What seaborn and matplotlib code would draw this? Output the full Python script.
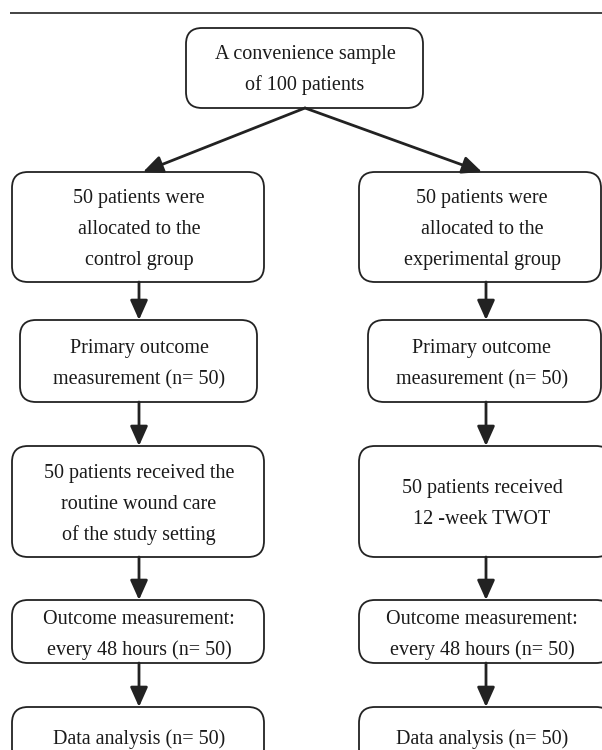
import matplotlib
matplotlib.use("Agg")
import matplotlib.pyplot as plt
from matplotlib.patches import FancyBboxPatch
import seaborn as sns

sns.set_theme(style="white")
plt.rcParams['font.family'] = ['Liberation Serif', 'DejaVu Serif']

# ---- content ----
top_label = ["A convenience sample", "of 100 patients"]
left_labels = [
    ["50 patients were", "allocated to the", "control group"],
    ["Primary outcome", "measurement (n= 50)"],
    ["50 patients received the", "routine wound care", "of the study setting"],
    ["Outcome measurement:", "every 48 hours (n= 50)"],
    ["Data analysis (n= 50)"],
]
right_labels = [
    ["50 patients were", "allocated to the", "experimental group"],
    ["Primary outcome", "measurement (n= 50)"],
    ["50 patients received", "12 -week TWOT"],
    ["Outcome measurement:", "every 48 hours (n= 50)"],
    ["Data analysis (n= 50)"],
]

# ---- layout (pixels) ----
W, H = 602, 750
top_box = (186, 28, 423, 108)
row_y = [(172, 282), (320, 402), (446, 557), (600, 663), (707, 765)]
left_x = [(12, 264), (20, 257), (12, 264), (12, 264), (12, 264)]
right_x = [(359, 601), (368, 601), (359, 612), (359, 612), (359, 612)]
left_arrow_x = 139
right_arrow_x = 486
line_gap = 31
ink = "#222222"

fig = plt.figure(figsize=(W / 100, H / 100), dpi=100)
ax = fig.add_axes([0, 0, 1, 1])
ax.set_xlim(0, W)
ax.set_ylim(H, 0)
ax.axis("off")

# top rule
ax.plot([10, W], [13, 13], color=ink, lw=1.2, solid_capstyle="butt")


def box(x0, y0, x1, y1, lines, tx=None, dy=3):
    p = FancyBboxPatch((x0, y0), x1 - x0, y1 - y0,
                       boxstyle="round,pad=0,rounding_size=16",
                       fc="white", ec=ink, lw=1.3, clip_on=True)
    ax.add_patch(p)
    cx = (x0 + x1) / 2 if tx is None else tx
    cy = (y0 + y1) / 2 + dy
    n = len(lines)
    for i, t in enumerate(lines):
        y = cy + (i - (n - 1) / 2) * line_gap
        ax.text(cx, y, t, ha="center", va="center", fontsize=14.5,
                color="#1a1a1a")


def arrow(x0, y0, x1, y1):
    ax.annotate("", xy=(x1, y1), xytext=(x0, y0),
                arrowprops=dict(arrowstyle="-|>,head_length=0.85,head_width=0.38",
                                color=ink, lw=2.0, shrinkA=0, shrinkB=0,
                                mutation_scale=14))


box(*top_box, top_label, tx=305, dy=2)

for i in range(len(row_y)):
    y0, y1 = row_y[i]
    lx0, lx1 = left_x[i]
    rx0, rx1 = right_x[i]
    box(lx0, y0, lx1, y1, left_labels[i], tx=139)
    box(rx0, y0, rx1, y1, right_labels[i], tx=482)

# arrows from top box
arrow(305, 108, 143, 172)
arrow(305, 108, 482, 172)
for i in range(len(row_y) - 1):
    arrow(left_arrow_x, row_y[i][1], left_arrow_x, row_y[i + 1][0])
    arrow(right_arrow_x, row_y[i][1], right_arrow_x, row_y[i + 1][0])

fig.savefig("out.png", dpi=100, facecolor="white")
